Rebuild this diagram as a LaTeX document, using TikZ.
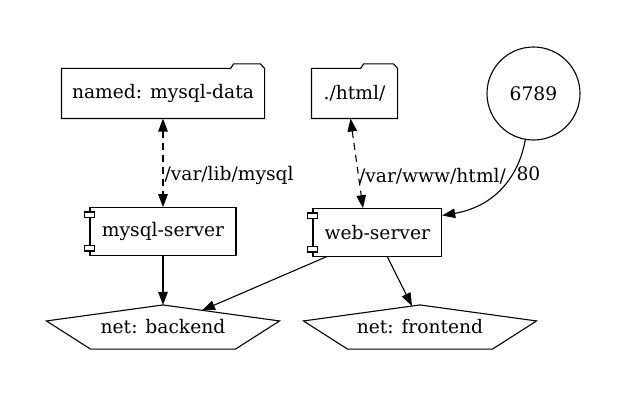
\documentclass[tikz,border=0pt]{standalone}
\usepackage{fontspec}
\setmainfont{DejaVu Serif}
\usetikzlibrary{arrows.meta}
\begin{document}
\begin{tikzpicture}[x=1pt,y=-1pt,line width=1.1pt,
  txt/.style={font=\fontsize{18.67}{22}\selectfont, inner sep=0pt},
  folderbox/.style={txt, minimum height=49pt},
  compbox/.style={txt, draw, minimum height=47.5pt},
  netbox/.style={txt, minimum width=232pt, minimum height=43pt},
  arr/.style={-{Triangle[length=13pt,width=9.5pt]}},
  darr/.style={{Triangle[length=13pt,width=9.5pt]}-{Triangle[length=13pt,width=9.5pt]}, dash pattern=on 7pt off 5pt},
  elabel/.style={txt, anchor=west}
]
\useasboundingbox (0,0) rectangle (627,401);

% folders
\node[folderbox, minimum width=202pt] (mysqldata) at (163,93.5) {named: mysql-data};
\node[folderbox, minimum width=85pt] (html) at (354.5,93.5) {./html/};
\foreach \n/\t in {mysqldata/34pt, html/37pt}{
  \draw (\n.south west) -- (\n.north west) -- ([xshift=-\t]\n.north east)
    -- ([xshift=-\t+3pt,yshift=4.5pt]\n.north east) -- ([xshift=-4pt,yshift=4.5pt]\n.north east)
    -- (\n.north east) -- (\n.south east) -- cycle;
}

% port circle
\node[txt, draw, circle, minimum size=93pt] (port) at (533.5,93.5) {6789};

% components
\node[compbox, minimum width=146pt] (mysql) at (163,231.5) {mysql-server};
\node[compbox, minimum width=128.7pt] (ws) at (377.3,232.5) {web-server};
\foreach \n in {mysql, ws}{
  \draw[fill=white] ([xshift=-5pt,yshift=-4.8pt]\n.north west) rectangle ++(10,5.5);
  \draw[fill=white] ([xshift=-5pt,yshift=4.8pt]\n.south west) rectangle ++(10,-5.5);
}

% networks
\node[netbox] (backend) at (163,327) {net: backend};
\node[netbox] (frontend) at (420,327) {net: frontend};
\foreach \n in {backend, frontend}{
  \draw (\n.north) -- ([yshift=-16pt]\n.north east) -- ([xshift=-44pt]\n.south east)
    -- ([xshift=44pt]\n.south west) -- ([yshift=-16pt]\n.north west) -- cycle;
}
\coordinate (bkin) at (202,310.4);
\coordinate (frin) at (412,306);

% connectors
\draw[darr] (mysqldata.south) -- (mysql.north)
  node[elabel, pos=0.64, xshift=1pt] {/var/lib/mysql};
\draw[darr] ([xshift=-4pt]html.south) -- ([xshift=-14.3pt]ws.north)
  node[elabel, pos=0.64, xshift=0pt] {/var/www/html/};
\draw[arr] (port.260) .. controls (518,180) and (492,207) .. ([yshift=17pt]ws.east);
\node[txt, anchor=west] (l80) at (516,173.5) {80};
\draw[arr] (mysql.south) -- (backend.north);
\draw[arr] ([xshift=-51pt]ws.south) -- (bkin);
\draw[arr] ([xshift=10pt]ws.south) -- (frin);
\end{tikzpicture}
\end{document}
